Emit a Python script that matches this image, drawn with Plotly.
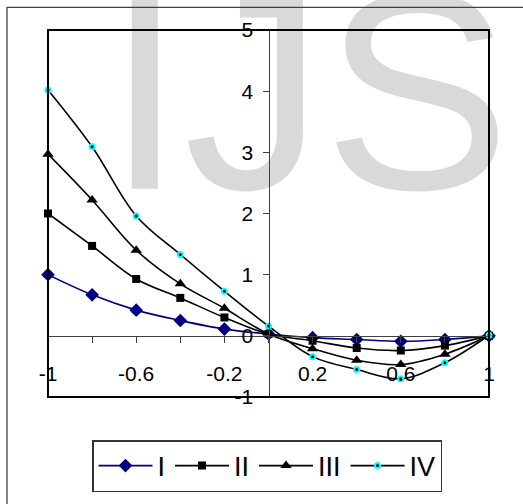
import plotly.graph_objects as go

x = [-1.0, -0.8, -0.6, -0.4, -0.2, 0.0, 0.2, 0.4, 0.6, 0.8, 1.0]
series_I = [1.00, 0.67, 0.42, 0.25, 0.11, 0.03, -0.03, -0.06, -0.09, -0.06, 0.00]
series_II = [2.00, 1.47, 0.93, 0.62, 0.30, 0.03, -0.08, -0.20, -0.24, -0.16, 0.00]
series_III = [2.97, 2.22, 1.40, 0.85, 0.45, 0.03, -0.21, -0.40, -0.47, -0.30, 0.00]
series_IV = [4.02, 3.09, 1.96, 1.33, 0.73, 0.16, -0.34, -0.55, -0.70, -0.44, 0.01]
names = ["I", "II", "III", "IV"]

x_tickvals = [-1.0, -0.8, -0.6, -0.4, -0.2, 0.0, 0.2, 0.4, 0.6, 0.8, 1.0]
x_ticktext = ["-1", "", "-0.6", "", "-0.2", "", "0.2", "", "0.6", "", "1"]
y_tickvals = [-1, 0, 1, 2, 3, 4, 5]
y_ticktext = ["-1", "0", "1", "2", "3", "4", "5"]

FONT = "Liberation Sans, Arial, sans-serif"

fig = go.Figure()

# watermark (drawn first so it sits below everything)
fig.add_trace(go.Scatter(
    x=[0.18], y=[3.55], mode="text", text=["IJS"],
    textposition="middle center",
    textfont=dict(family=FONT, size=280, color="#d9d9d9"),
    cliponaxis=False, showlegend=False, hoverinfo="skip"))

styles = [
    dict(line=dict(color="#000080", width=1.6),
         marker=dict(symbol="diamond", size=10.5, color="#000080")),
    dict(line=dict(color="#000000", width=1.6),
         marker=dict(symbol="square", size=8, color="#000000")),
    dict(line=dict(color="#000000", width=1.6),
         marker=dict(symbol="triangle-up", size=10, color="#000000")),
    dict(line=dict(color="#000000", width=1.6),
         marker=dict(symbol="circle", size=5, color="#000000",
                     line=dict(color="#00FFFF", width=2))),
]

for name, ys, st in zip(names, [series_I, series_II, series_III, series_IV], styles):
    fig.add_trace(go.Scatter(
        x=x, y=ys, name=name, mode="lines+markers",
        line=dict(shape="spline", smoothing=1.0, **st["line"]),
        marker=st["marker"], cliponaxis=False))

fig.update_layout(
    width=523, height=504,
    margin=dict(l=48, r=34, t=30, b=102),
    paper_bgcolor="white", plot_bgcolor="rgba(0,0,0,0)",
    font=dict(family=FONT, color="black"),
    xaxis=dict(range=[-1, 1], anchor="free", position=1/6,
               showgrid=False, zeroline=False,
               showline=True, linecolor="#404040", linewidth=1,
               ticks="outside", ticklen=6, tickcolor="#404040", tickwidth=1,
               tickvals=x_tickvals, ticktext=x_ticktext,
               tickfont=dict(family=FONT, size=21, color="black"),
               ticklabelstandoff=13),
    yaxis=dict(range=[-1, 5], anchor="free", position=0.5,
               showgrid=False, zeroline=False,
               showline=True, linecolor="#404040", linewidth=1,
               ticks="outside", ticklen=6, tickcolor="#404040", tickwidth=1,
               tickvals=y_tickvals, ticktext=y_ticktext,
               tickfont=dict(family=FONT, size=21, color="black"),
               ticklabelstandoff=5),
    showlegend=True,
    legend=dict(orientation="h", x=0.4966, xanchor="center",
                y=(402 - 472) / 372, yanchor="middle",
                bordercolor="#333333", borderwidth=1.5, bgcolor="white",
                font=dict(family=FONT, size=27, color="black"),
                itemwidth=54),
)

fig.add_shape(type="rect", xref="paper", yref="paper", x0=0, x1=1, y0=0, y1=1,
              line=dict(color="black", width=2), layer="above")
fig.add_shape(type="rect", xref="paper", yref="paper",
              x0=(7 - 48) / 441, x1=(540 - 48) / 441,
              y0=(402 - 520) / 372, y1=(402 - 7) / 372,
              line=dict(color="#404040", width=1.3), layer="above")

fig.write_html("out.html")
